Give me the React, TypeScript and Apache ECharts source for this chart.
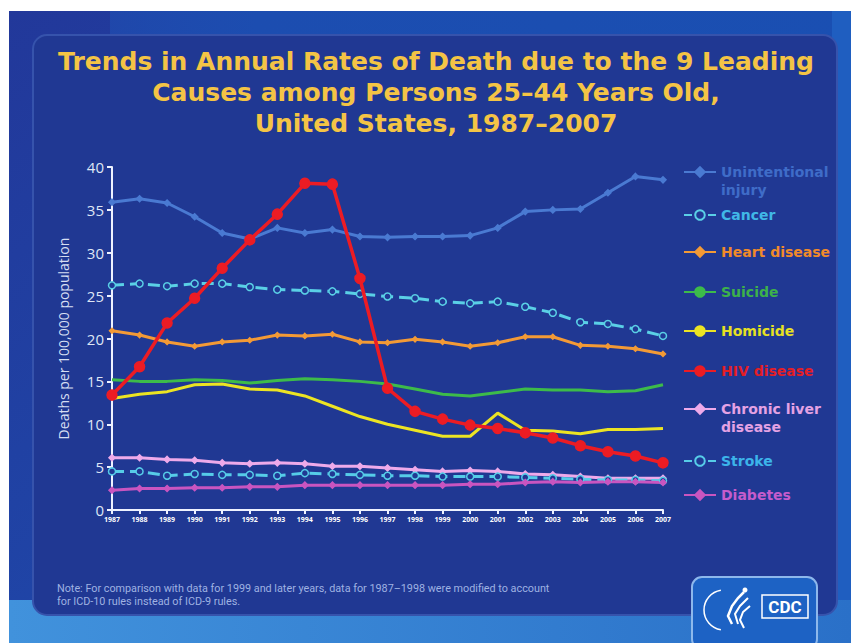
import React, { useEffect, useRef } from "react";
import * as echarts from "echarts";

const years = ["1987","1988","1989","1990","1991","1992","1993","1994","1995","1996","1997","1998","1999","2000","2001","2002","2003","2004","2005","2006","2007"];

const unintentionalInjury = [35.9,36.3,35.8,34.2,32.3,31.6,32.9,32.3,32.7,31.9,31.8,31.9,31.9,32.0,32.9,34.8,35.0,35.1,37.0,38.9,38.5];
const cancer = [26.2,26.4,26.1,26.4,26.4,26.0,25.7,25.6,25.5,25.2,24.9,24.7,24.3,24.1,24.3,23.7,23.0,21.9,21.7,21.1,20.3];
const heartDisease = [20.9,20.4,19.6,19.1,19.6,19.8,20.4,20.3,20.5,19.6,19.5,19.9,19.6,19.1,19.5,20.2,20.2,19.2,19.1,18.8,18.2];
const suicide = [15.2,15.0,15.0,15.2,15.1,14.8,15.1,15.3,15.2,15.0,14.7,14.1,13.5,13.3,13.7,14.1,14.0,14.0,13.8,13.9,14.6];
const homicide = [13.0,13.5,13.8,14.6,14.7,14.1,14.0,13.3,12.1,10.9,10.0,9.3,8.6,8.6,11.3,9.3,9.2,8.9,9.4,9.4,9.5];
const hivDisease = [13.4,16.7,21.8,24.7,28.2,31.5,34.5,38.1,38.0,27.0,14.2,11.5,10.6,9.9,9.5,9.0,8.4,7.5,6.8,6.3,5.5];
const chronicLiver = [6.1,6.1,5.9,5.8,5.5,5.4,5.5,5.4,5.1,5.1,4.9,4.7,4.5,4.6,4.5,4.2,4.1,3.9,3.7,3.7,3.7];
const stroke = [4.5,4.5,4.0,4.2,4.1,4.1,4.0,4.3,4.2,4.1,4.0,4.0,3.9,3.9,3.9,3.8,3.7,3.6,3.5,3.5,3.4];
const diabetes = [2.3,2.5,2.5,2.6,2.6,2.7,2.7,2.9,2.9,2.9,2.9,2.9,2.9,3.0,3.0,3.2,3.3,3.2,3.3,3.3,3.2];

const yTicks = [0, 5, 10, 15, 20, 25, 30, 35, 40];

const seriesNames = ["Unintentional injury","Cancer","Heart disease","Suicide","Homicide","HIV disease","Chronic liver disease","Stroke","Diabetes"];
const legendLabels = ["Unintentional\ninjury","Cancer","Heart disease","Suicide","Homicide","HIV disease","Chronic liver\ndisease","Stroke","Diabetes"];

const TITLE = "Trends in Annual Rates of Death due to the 9 Leading\nCauses among Persons 25\u201344 Years Old,\nUnited States, 1987\u20132007";
const Y_NAME = "Deaths per 100,000 population";
const NOTE1 = "Note: For comparison with data for 1999 and later years, data for 1987\u20131998 were modified to account";
const NOTE2 = "for ICD-10 rules instead of ICD-9 rules.";

const FONT = "'Open Sans', 'Noto Sans', sans-serif";
const TFONT = "'DejaVu Sans', Roboto, sans-serif";
const NFONT = "Roboto, 'Open Sans', sans-serif";
const PANEL = "#203893";

export default function App() {
  const ref = useRef<HTMLDivElement>(null);
  useEffect(() => {
    if (!ref.current) return;
    const chart = echarts.init(ref.current, undefined, { renderer: "svg" });

    const defs = [
      { data: unintentionalInjury, color: "#4a7ad2", text: "#3f6cc8", symbol: "diamond", size: 6, fill: "#4a7ad2", type: "solid", width: 3, z: 3 },
      { data: cancer, color: "#5ad0e6", text: "#40b8e6", symbol: "circle", size: 7, fill: PANEL, type: "dashed", width: 3, z: 3 },
      { data: heartDisease, color: "#f39a36", text: "#f08a2a", symbol: "diamond", size: 5, fill: "#f39a36", type: "solid", width: 3, z: 3 },
      { data: suicide, color: "#3dbb4a", text: "#3db14a", symbol: "none", size: 0, fill: "#3dbb4a", type: "solid", width: 3, z: 3 },
      { data: homicide, color: "#ece423", text: "#e6e022", symbol: "none", size: 0, fill: "#ece423", type: "solid", width: 3, z: 3 },
      { data: hivDisease, color: "#ec1c24", text: "#e41e26", symbol: "circle", size: 10, fill: "#ec1c24", type: "solid", width: 3.5, z: 6 },
      { data: chronicLiver, color: "#eeaaea", text: "#e4a2e4", symbol: "diamond", size: 6, fill: "#eeaaea", type: "solid", width: 3, z: 4 },
      { data: stroke, color: "#56cce8", text: "#3cb4ea", symbol: "circle", size: 7, fill: PANEL, type: "dashed", width: 3, z: 4 },
      { data: diabetes, color: "#c955c0", text: "#c55ccc", symbol: "diamond", size: 6, fill: "#c955c0", type: "solid", width: 3, z: 4 },
    ];

    const legendCenters = [172, 215, 252, 292, 331, 371, 409, 461, 495];
    const LH = 18;

    const series = defs.map((d, i) => ({
      name: seriesNames[i],
      type: "line",
      data: d.data,
      symbol: d.symbol,
      symbolSize: d.size,
      showSymbol: d.symbol !== "none",
      z: d.z,
      lineStyle: { color: d.color, width: d.width, type: d.type },
      itemStyle: { color: d.fill, borderColor: d.color, borderWidth: 1.5 },
    }));

    const legends = defs.map((d, i) => {
      const two = legendLabels[i].includes("\n");
      return {
        data: [seriesNames[i]],
        left: 683,
        top: two ? legendCenters[i] - LH * 1.5 : legendCenters[i] - LH / 2,
        padding: 0,
        itemWidth: 32,
        itemHeight: 12,
        itemGap: 0,
        selectedMode: false,
        formatter: () => (two ? "\n" + legendLabels[i] : legendLabels[i]),
        textStyle: {
          color: d.text,
          fontSize: 14,
          fontWeight: "bold",
          fontFamily: TFONT,
          lineHeight: LH,
        },
      };
    });

    const option = {
      animation: false,
      backgroundColor: "#ffffff",
      title: {
        text: TITLE,
        left: 436,
        top: 46,
        padding: 0,
        textAlign: "center",
        textStyle: {
          color: "#f4c445",
          fontSize: 25,
          fontWeight: "bold",
          fontFamily: TFONT,
          lineHeight: 31,
        },
      },
      graphic: {
        elements: [
          {
            type: "rect",
            z: -10,
            shape: { x: 9, y: 11, width: 842, height: 632 },
            style: {
              fill: new echarts.graphic.LinearGradient(0, 0, 1, 1, [
                { offset: 0, color: "#22389a" },
                { offset: 0.55, color: "#1f46a8" },
                { offset: 1, color: "#2a72cc" },
              ]),
            },
          },
          {
            type: "rect",
            z: -9,
            shape: { x: 110, y: 11, width: 741, height: 30 },
            style: {
              fill: new echarts.graphic.LinearGradient(0, 0, 1, 0, [
                { offset: 0, color: "rgba(30,80,180,0.6)" },
                { offset: 0.2, color: "#1c4db0" },
                { offset: 1, color: "#1a4fb2" },
              ]),
            },
          },
          {
            type: "rect",
            z: -9,
            shape: { x: 832, y: 11, width: 19, height: 632 },
            style: { fill: "#1f5ec0" },
          },
          {
            type: "rect",
            z: -9,
            shape: { x: 9, y: 600, width: 842, height: 43 },
            style: {
              fill: new echarts.graphic.LinearGradient(0, 0, 1, 0, [
                { offset: 0, color: "#4192dc" },
                { offset: 1, color: "#2a70c8" },
              ]),
            },
          },
          {
            type: "rect",
            z: -8,
            shape: { x: 33, y: 35, width: 804, height: 580, r: 14 },
            style: { fill: PANEL, stroke: "#3653ac", lineWidth: 2 },
          },
          {
            type: "text",
            x: 57,
            y: 583,
            style: { text: NOTE1, fill: "#9fb2e2", fontSize: 10.8, fontFamily: NFONT },
          },
          {
            type: "text",
            x: 57,
            y: 596,
            style: { text: NOTE2, fill: "#9fb2e2", fontSize: 10.8, fontFamily: NFONT },
          },
          {
            type: "rect",
            shape: { x: 692, y: 577, width: 125, height: 72, r: 10 },
            style: { fill: "#1d62c4", stroke: "#8db8ec", lineWidth: 2 },
          },
          {
            type: "arc",
            shape: { cx: 724, cy: 610, r: 20, startAngle: Math.PI * 0.55, endAngle: Math.PI * 1.45, clockwise: true },
            style: { stroke: "#ffffff", lineWidth: 1.5, fill: null },
          },
          {
            type: "polyline",
            shape: { points: [[744, 592], [738, 598], [732, 606], [728, 616], [732, 624]] },
            style: { stroke: "#ffffff", lineWidth: 2.5, fill: null },
          },
          {
            type: "polyline",
            shape: { points: [[748, 598], [740, 606], [735, 614], [738, 624]] },
            style: { stroke: "#ffffff", lineWidth: 2, fill: null },
          },
          {
            type: "polyline",
            shape: { points: [[750, 606], [743, 612], [740, 620], [744, 628]] },
            style: { stroke: "#ffffff", lineWidth: 2, fill: null },
          },
          {
            type: "circle",
            shape: { cx: 745, cy: 590, r: 2.5 },
            style: { fill: "#ffffff" },
          },
          {
            type: "rect",
            shape: { x: 762, y: 595, width: 46, height: 23 },
            style: { fill: "#1d62c4", stroke: "#ffffff", lineWidth: 1.5 },
          },
          {
            type: "text",
            x: 785,
            y: 607,
            style: {
              text: "CDC",
              fill: "#ffffff",
              fontSize: 17,
              fontWeight: "bold",
              fontFamily: NFONT,
              align: "center",
              verticalAlign: "middle",
            },
          },
        ],
      },
      grid: { left: 112, right: 188, top: 167, bottom: 133 },
      xAxis: {
        type: "category",
        data: years,
        boundaryGap: false,
        axisLine: { show: true, lineStyle: { color: "#eef2ff", width: 2 } },
        axisTick: { show: true, length: 4, interval: 0, lineStyle: { color: "#eef2ff", width: 2 } },
        axisLabel: { color: "#ffffff", fontSize: 7, fontWeight: "bold", margin: 6, interval: 0, fontFamily: FONT },
        splitLine: { show: false },
      },
      yAxis: {
        type: "value",
        min: yTicks[0],
        max: yTicks[yTicks.length - 1],
        interval: yTicks[1] - yTicks[0],
        name: Y_NAME,
        nameLocation: "middle",
        nameGap: 42,
        nameTextStyle: { color: "#d6def2", fontSize: 14, fontFamily: FONT },
        axisLine: { show: true, lineStyle: { color: "#eef2ff", width: 2 } },
        axisTick: { show: true, length: 5, lineStyle: { color: "#eef2ff", width: 2 } },
        axisLabel: { color: "#dfe6f5", fontSize: 15, margin: 8, fontFamily: FONT },
        splitLine: { show: false },
      },
      legend: legends,
      series,
    };

    chart.setOption(option as any);
    return () => chart.dispose();
  }, []);

  return (
    <div
      ref={ref}
      style={{ position: "fixed", left: 0, top: 0, width: 851, height: 643 }}
    />
  );
}
